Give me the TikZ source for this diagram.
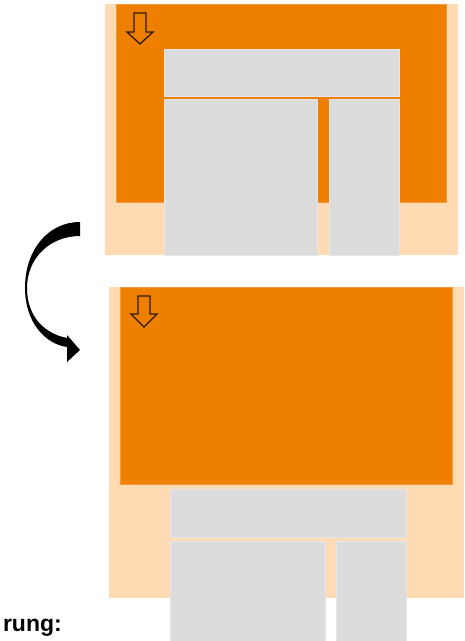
\documentclass[tikz,border=0pt]{standalone}
\usepackage{fontspec}
\setmainfont{Liberation Sans}
\usepackage{tikz}
\usetikzlibrary{positioning,calc}
\definecolor{panelpeach}{HTML}{FFDAB2}
\definecolor{paneorange}{HTML}{EF7F00}
\definecolor{orangeedge}{HTML}{F59A3A}
\definecolor{blockgray}{HTML}{DCDCDC}
\definecolor{blockedge}{HTML}{E6E6E6}
\definecolor{icondark}{HTML}{2E1A00}

\begin{document}
\begin{tikzpicture}[
  x=1pt, y=-1pt,
  peachpanel/.style={fill=panelpeach},
  orangepanel/.style={fill=paneorange, draw=orangeedge, line width=0.8pt},
  grayblock/.style={fill=blockgray, draw=blockedge, line width=0.8pt},
  downicon/.style={draw=icondark, line width=1.3pt, line join=miter},
  caption/.style={font=\fontsize{23}{27}\selectfont\bfseries, inner sep=0pt},
]
\useasboundingbox (0,0) rectangle (465,641);

% before
\fill[peachpanel] (105,4) rectangle (458,255);
\draw[orangepanel] (116,4) rectangle (446,202);
\draw[grayblock] (164,49) rectangle (399,96);
\draw[grayblock] (164,99) rectangle (317,255);
\draw[grayblock] (329,99) rectangle (399,255);
\draw[downicon] (134,13) -- (146,13) -- (146,32) -- (153,32) -- (140,44)
  -- (127,32) -- (134,32) -- cycle;

% after
\fill[peachpanel] (109,287) rectangle (464,598);
\draw[orangepanel] (120,287) rectangle (452,484);
\draw[grayblock] (170,489) rectangle (406,537);
\draw[grayblock] (170,541) rectangle (325,641);
\draw[grayblock] (336,541) rectangle (406,641);
\draw[downicon] (138,296) -- (150,296) -- (150,314) -- (157,314) -- (144,327)
  -- (131,314) -- (138,314) -- cycle;

% swap arrow
\fill[black] (80,222) .. controls (48,222) and (25,250) .. (25,288)
  .. controls (25,322) and (45,344) .. (67,347)
  -- (67,362) -- (80,350) -- (67,335) -- (67,338)
  .. controls (46,334) and (27,318) .. (27,288)
  .. controls (27,258) and (50,236) .. (80,236) -- cycle;

\node[caption, anchor=base east] (label) at (62,631) {rung:};
\end{tikzpicture}
\end{document}
